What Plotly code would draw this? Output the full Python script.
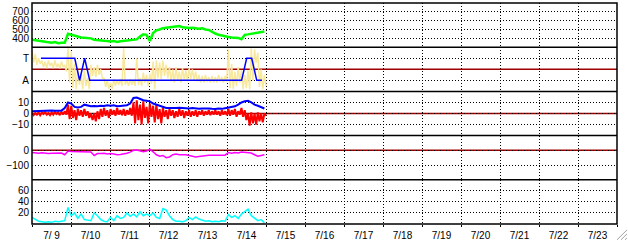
import pandas as pd
import plotly.graph_objects as go

START = "2013-07-09 00:00"
END_DATA = "2013-07-14 23:00"
N = 72

green_vals = [385, 380, 378, 372, 365, 355, 350, 358, 345, 350, 350, 452, 440, 428, 420, 410, 408, 405,
              400, 385, 378, 378, 372, 370, 365, 370, 360, 368, 372, 375, 380, 385, 388, 420, 445, 440,
              370, 460, 490, 500, 515, 520, 525, 530, 528, 540, 525, 520, 518, 520, 515, 510, 515, 500,
              495, 470, 455, 440, 430, 422, 415, 410, 408, 405, 390, 440, 445, 450, 455, 460, 470, 478]

yellow_hi = [3.7, 3.4, 3.0, 2.8, 2.7, 2.8, 2.6, 2.8, 2.5, 2.7, 2.4, 3.9, 3.6, 2.5, 1.9, 1.6, 1.9, 1.2,
             2.4, 2.2, 2.4, 2.0, 1.2, 1.0, 0.8, 1.1, 1.0, 1.1, 3.9, 1.0, 1.1, 1.0, 3.0, 1.2, 1.7, 1.5,
             1.6, 2.7, 2.8, 2.6, 2.8, 2.4, 2.2, 2.0, 2.2, 1.8, 2.1, 1.9, 2.1, 2.0, 1.8, 1.5, 1.4, 1.5,
             1.3, 1.4, 1.3, 1.5, 1.3, 1.4, 3.8, 2.5, 1.8, 2.2, 1.9, 1.5, 1.9, 3.9, 3.8, 3.5, 2.0, 1.5]
yellow_lo = [2.6, 2.4, 2.5, 2.2, 2.1, 2.3, 2.1, 2.2, 2.1, 2.2, 1.8, 0.8, 0.3, 0.2, 0.6, 0.2, 0.5, 0.2,
             1.4, 1.3, 1.5, 1.2, 0.4, 0.2, 0.2, 0.5, 0.6, 0.5, 0.6, 0.5, 0.6, 0.5, 0.6, 0.5, 0.8, 0.5,
             0.7, 0.2, 1.2, 1.1, 1.4, 1.2, 0.9, 0.8, 1.0, 0.8, 1.0, 0.9, 1.1, 1.0, 0.9, 0.8, 0.8, 0.9,
             0.8, 0.8, 0.8, 0.9, 0.8, 0.9, 0.3, 0.2, 0.5, 0.8, 0.2, 0.3, 0.2, 1.0, 2.6, 0.4, 0.2, 0.5]

mode_hours = [5.5, 26.3, 29.3, 32.4, 35.5, 129.0, 132.1, 135.2, 138.3, 141.5]
mode_vals = [3, 3, 1, 3, 1, 1, 3, 3, 1, 1]
mode_ticks = [1, 3]
mode_labels = ["A", "T"]

blue_vals = [2, 2.2, 2.5, 2.5, 2.8, 2.5, 2.8, 2.6, 2.5, 2.6, 5, 10, 9, 6, 5.5, 6, 8, 7,
             6.5, 6.8, 6.5, 7, 6.8, 7.5, 7, 7.5, 6.5, 6.8, 7, 7.5, 9, 14, 14.5, 13, 12, 11.5,
             11, 9, 8, 6.5, 6, 5, 5, 4.8, 5, 5.2, 5, 4.8, 4.5, 5, 4.5, 4.2, 4.5, 4.8,
             4.5, 4.2, 4, 4.5, 4.2, 4.8, 5.5, 6, 6.5, 8, 10, 11, 11.5, 10, 8, 7, 6, 4.5]

red_hi = [0.5, 0.5, 1, 1, 1.5, 0.5, 1, 1.5, 1, 1.5, 2, 8, 7, 3, 4, 3, 4, 2,
          0, 0, 2, 4, 5, 3, 4, 3, 5, 3, 4, 3, 5, 10, 12, 8, 11, 6,
          9, 7, 8, 4, 5, 3, 4, 3, 2, 4, 3, 2, 3, 2, 3, 2, 3, 2,
          3, 2, 3, 2, 3, 2, 4, 3, 4, 2, 5, 3, 0, 1, 0, 1, 0, 0]
red_lo = [-1.5, -1, -1.5, -0.5, -1, -1.5, -1, -0.5, -1.5, -1, -1, -5, -4, -6, -2, -3, -2, -4,
          -6, -7, -5, -3, -2, -4, -1, -2, -1, -1.5, -2, -1, -2, -9, -6, -10, -4, -9,
          -3, -8, -5, -9, -3, -5, -2, -4, -3, -2, -4, -2, -3, -2, -3, -1, -2, -1,
          -1.5, -1, -1, -2, -1, -1.5, -2, -1, -3, -1, -3, -6, -11, -9, -10, -7, -8, -2]

magenta_vals = [-15, -18, -20, -17, -20, -22, -20, -18, -20, -18, -30, -5, -8, -8, -10, -8, -10, -9,
                -12, -35, -22, -22, -20, -25, -22, -25, -30, -28, -25, -20, -12, 0, 2, -5, -10, -5,
                8, -10, -30, -40, -35, -50, -45, -30, -25, -30, -28, -30, -35, -42, -45, -42, -38, -35,
                -33, -33, -32, -33, -33, -33, -15, -20, -15, -18, -12, -15, -20, -18, -30, -40, -35, -30]

cyan_vals = [12, 8, 5, 4, 3, 4, 3, 5, 4, 5, 6, 30, 15, 20, 10, 18, 8, 7,
             6, 20, 15, 8, 5, 4, 12, 6, 15, 10, 12, 20, 14, 18, 13, 22, 15, 18,
             15, 20, 12, 10, 28, 25, 15, 8, 5, 5, 4, 6, 12, 8, 13, 9, 7, 5,
             6, 4, 5, 4, 6, 5, 17, 12, 15, 10, 18, 22, 27, 15, 10, 6, 8, 2]

times = pd.date_range(START, END_DATA, periods=N)
mode_times = pd.Timestamp(START) + pd.to_timedelta(mode_hours, unit="h")
half = (times[1] - times[0]) / 2


def band(hi, lo):
    """Interleave high/low readings so the line sweeps the spread of each interval."""
    xs, ys = [], []
    for t, h, l in zip(times, hi, lo):
        xs += [t, t + half]
        ys += [h, l]
    return xs, ys


FONT = "Liberation Sans, Arial, sans-serif"
FS = 10
DOT = "1px,2px"
DARKRED = "#a00000"

fig = go.Figure()
fig.add_trace(go.Scatter(x=times, y=green_vals, yaxis="y", mode="lines",
                         line=dict(color="#00ff00", width=2.5)))
yx, yy = band(yellow_hi, yellow_lo)
fig.add_trace(go.Scatter(x=yx, y=yy, yaxis="y2", mode="lines",
                         line=dict(color="#f8e89c", width=1.5)))
fig.add_trace(go.Scatter(x=mode_times, y=mode_vals, yaxis="y2", mode="lines",
                         line=dict(color="#0000ff", width=1.5)))
rx, ry = band(red_hi, red_lo)
fig.add_trace(go.Scatter(x=rx, y=ry, yaxis="y3", mode="lines",
                         line=dict(color="#ff0000", width=2)))
fig.add_trace(go.Scatter(x=times, y=blue_vals, yaxis="y3", mode="lines",
                         line=dict(color="#0000ff", width=2)))
fig.add_trace(go.Scatter(x=times, y=magenta_vals, yaxis="y4", mode="lines",
                         line=dict(color="#ff00ff", width=1.5)))
fig.add_trace(go.Scatter(x=times, y=cyan_vals, yaxis="y5", mode="lines",
                         line=dict(color="#00ffff", width=1.5)))


def yax(k, rng, tickvals, ticktext=None):
    d = dict(domain=[1 - (k + 1) / 5, 1 - k / 5], range=rng, tickvals=tickvals,
             showgrid=True, gridcolor="black", griddash=DOT, gridwidth=1,
             zeroline=False, showline=False, ticks="", anchor="x", ticklabelstandoff=2,
             tickfont=dict(family=FONT, size=FS, color="black"), fixedrange=True)
    if ticktext is not None:
        d["ticktext"] = ticktext
    return d


layout = dict(
    width=628, height=244,
    margin=dict(l=32, r=11, t=3, b=17, pad=0),
    paper_bgcolor="white", plot_bgcolor="white",
    showlegend=False,
    xaxis=dict(range=["2013-07-09 00:00", "2013-07-24 00:00"], type="date",
               dtick=86400000, tick0="2013-07-09", ticklabelmode="period",
               tickformat="%-m/%e", showgrid=True, gridcolor="black", griddash=DOT,
               gridwidth=1, zeroline=False, ticks="outside", ticklen=2, tickcolor="black",
               anchor="y5", tickfont=dict(family=FONT, size=FS, color="black")),
    yaxis=yax(0, [300, 800], [400, 500, 600, 700]),
    yaxis2=yax(1, [0, 4], mode_ticks, mode_labels),
    yaxis3=yax(2, [-20, 20], [-10, 0, 10]),
    yaxis4=yax(3, [-200, 100], [-100, 0]),
    yaxis5=yax(4, [0, 80], [20, 40, 60]),
)
fig.update_layout(**layout)

shapes = []
for yref, yv in (("y2", 2), ("y3", 0), ("y4", 0)):
    shapes.append(dict(type="line", xref="paper", x0=0, x1=1, yref=yref, y0=yv, y1=yv,
                       line=dict(color=DARKRED, width=1.5), layer="between"))
for yp in (0.2, 0.4, 0.6, 0.8):
    shapes.append(dict(type="line", xref="paper", x0=0, x1=1, yref="paper", y0=yp, y1=yp,
                       line=dict(color="black", width=1.5)))
shapes.append(dict(type="rect", xref="paper", x0=0, x1=1, yref="paper", y0=0, y1=1,
                   line=dict(color="black", width=1.5)))
# window resize grip in the bottom-right corner
for a in (0, 4, 8):
    shapes.append(dict(type="line", xref="paper", yref="paper",
                       x0=(617 + a - 32) / 585, y0=(227 - 243) / 224,
                       x1=(627 - 32) / 585, y1=(227 - 233 - a) / 224,
                       line=dict(color="#a0a0a0", width=1)))
fig.update_layout(shapes=shapes)

fig.write_html("out.html")
